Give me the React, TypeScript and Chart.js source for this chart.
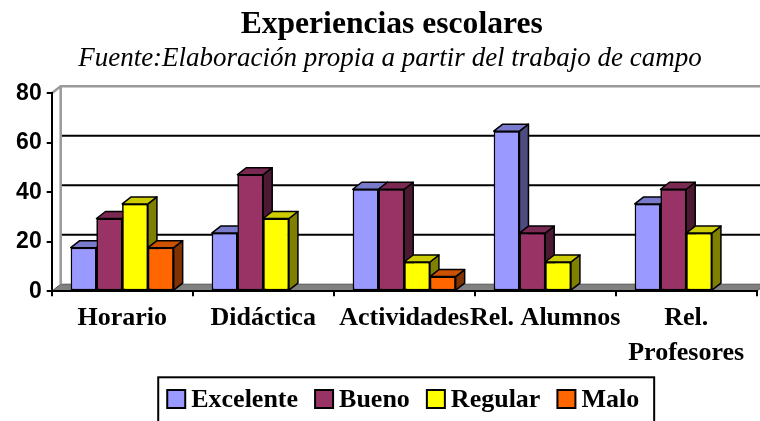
import React, { useEffect, useRef } from "react";
import { Chart, registerables } from "chart.js";

Chart.register(...registerables);

// ---- data ----
const categories: (string | string[])[] = ["Horario", "Didáctica", "Actividades", "Rel. Alumnos", ["Rel.", "Profesores"]];
const seriesNames = ["Excelente", "Bueno", "Regular", "Malo"];
const excelente = [17.6, 23.5, 41.2, 64.7, 35.3];
const bueno = [29.4, 47.1, 41.2, 23.5, 41.2];
const regular = [35.3, 29.4, 11.8, 11.8, 23.5];
const malo = [17.6, null, 5.9, null, null];
const yTicks = [0, 20, 40, 60, 80];
const titleText = "Experiencias escolares";
const subtitleText = "Fuente:Elaboración propia a partir del trabajo de campo";

// ---- styles ----
const frontColors = ["#9999FF", "#993366", "#FFFF00", "#FF6600"];
const topColors = ["#7A7ACC", "#7A2952", "#CCCC00", "#CC5200"];
const sideColors = ["#4C4C80", "#4C1933", "#808000", "#803300"];
const DX = 9;
const DY = -7;
const SERIF = '"Liberation Serif", "Times New Roman", serif';
const SANS = '"Liberation Sans", Arial, sans-serif';

const threeD = {
  id: "threeD",
  beforeDraw(chart: any) {
    const { ctx, chartArea, scales } = chart;
    const { left, right } = chartArea;
    const y = scales.y;
    const yMax = y.getPixelForValue(yTicks[yTicks.length - 1]);
    const y0 = y.getPixelForValue(yTicks[0]);
    ctx.save();
    // floor
    ctx.fillStyle = "#808080";
    ctx.beginPath();
    ctx.moveTo(left, y0);
    ctx.lineTo(right, y0);
    ctx.lineTo(right + DX, y0 + DY);
    ctx.lineTo(left + DX, y0 + DY);
    ctx.closePath();
    ctx.fill();
    ctx.strokeStyle = "#555";
    ctx.lineWidth = 1;
    ctx.stroke();
    // back wall grid lines
    ctx.strokeStyle = "#000";
    ctx.lineWidth = 2;
    yTicks.forEach((v) => {
      if (v === yTicks[0] || v === yTicks[yTicks.length - 1]) return;
      const py = y.getPixelForValue(v) + DY;
      ctx.beginPath();
      ctx.moveTo(left + DX, py);
      ctx.lineTo(right + DX, py);
      ctx.stroke();
    });
    // wall frame
    ctx.strokeStyle = "#9a9a9a";
    ctx.lineWidth = 2.5;
    ctx.beginPath();
    ctx.moveTo(left, yMax);
    ctx.lineTo(left + DX, yMax + DY);
    ctx.lineTo(right + DX, yMax + DY);
    ctx.moveTo(left + DX, yMax + DY);
    ctx.lineTo(left + DX, y0 + DY);
    ctx.stroke();
    ctx.restore();
  },
  afterDatasetsDraw(chart: any) {
    const { ctx } = chart;
    ctx.save();
    // paint left to right: for each series, side + top, then the library's own front face again
    chart.data.datasets.forEach((ds: any, idx: number) => {
      const meta = chart.getDatasetMeta(idx);
      meta.data.forEach((el: any, i: number) => {
        if (ds.data[i] == null) return;
        const p = el.getProps(["x", "y", "base", "width"], true);
        const L = p.x - p.width / 2;
        const R = p.x + p.width / 2;
        const T = Math.min(p.y, p.base);
        const B = Math.max(p.y, p.base);
        ctx.lineWidth = 1.5;
        ctx.strokeStyle = "#000";
        ctx.lineJoin = "round";
        // side
        ctx.fillStyle = sideColors[idx];
        ctx.beginPath();
        ctx.moveTo(R, T);
        ctx.lineTo(R + DX, T + DY);
        ctx.lineTo(R + DX, B + DY);
        ctx.lineTo(R, B);
        ctx.closePath();
        ctx.fill();
        ctx.stroke();
        // top
        ctx.fillStyle = topColors[idx];
        ctx.beginPath();
        ctx.moveTo(L, T);
        ctx.lineTo(R, T);
        ctx.lineTo(R + DX, T + DY);
        ctx.lineTo(L + DX, T + DY);
        ctx.closePath();
        ctx.fill();
        ctx.stroke();
        // front (library element)
        el.draw(ctx, chart.chartArea);
      });
    });
    ctx.restore();
  },
  afterDraw(chart: any) {
    const { ctx, chartArea } = chart;
    ctx.save();
    ctx.fillStyle = "#000";
    ctx.textAlign = "center";
    ctx.textBaseline = "alphabetic";
    ctx.font = `bold 31.6px ${SERIF}`;
    ctx.fillText(titleText, 391.7, 33.3);
    ctx.font = `italic 27px ${SERIF}`;
    ctx.fillText(subtitleText, 390, 66);

    // legend
    ctx.font = `bold 26px ${SERIF}`;
    ctx.textAlign = "left";
    const box = 18;
    const boxGap = 6;
    const itemGap = 17;
    const widths = seriesNames.map((n) => box + boxGap + ctx.measureText(n).width);
    const total = widths.reduce((a, b) => a + b, 0) + itemGap * (widths.length - 1);
    const cx = (chartArea.left + chartArea.right) / 2 - 1;
    let x = cx - total / 2;
    const start = x;
    const boxTop = 390;
    const baseline = 407.3;
    seriesNames.forEach((n, i) => {
      ctx.fillStyle = frontColors[i];
      ctx.fillRect(x, boxTop, box, box);
      ctx.strokeStyle = "#000";
      ctx.lineWidth = 2;
      ctx.strokeRect(x, boxTop, box, box);
      ctx.fillStyle = "#000";
      ctx.fillText(n, x + box + boxGap, baseline);
      x += widths[i] + itemGap;
    });
    const end = start + total;
    ctx.strokeStyle = "#000";
    ctx.lineWidth = 2;
    ctx.strokeRect(start - 9, 377.3, end - start + 24, 60);
    ctx.restore();
  },
};

export default function App() {
  const ref = useRef<HTMLCanvasElement | null>(null);
  useEffect(() => {
    if (!ref.current) return;
    const series = [excelente, bueno, regular, malo];
    const chart = new Chart(ref.current, {
      type: "bar",
      data: {
        labels: categories as any,
        datasets: series.map((d, i) => ({
          label: seriesNames[i],
          data: d as any,
          backgroundColor: frontColors[i],
          borderColor: "#000",
          borderWidth: 1.5,
          borderSkipped: false,
          categoryPercentage: 0.73,
          barPercentage: 1,
        })),
      },
      options: {
        animation: false,
        responsive: true,
        maintainAspectRatio: false,
        layout: { padding: { left: 0, right: 3.3, top: 93.3, bottom: 0 } },
        plugins: {
          legend: { display: false },
          title: { display: false },
          tooltip: { enabled: false },
        },
        scales: {
          x: {
            grid: { drawOnChartArea: false, drawTicks: true, tickLength: 5, color: "#000", lineWidth: 2, offset: true },
            border: { color: "#000", width: 2 },
            ticks: {
              color: "#000",
              font: { family: SERIF, size: 26, weight: "bold", lineHeight: 1.346 },
              padding: 4.2,
              maxRotation: 0,
              minRotation: 0,
              autoSkip: false,
            },
            afterFit: (s: any) => {
              s.height = 129.8;
            },
          },
          y: {
            min: yTicks[0],
            max: yTicks[yTicks.length - 1],
            grid: { drawOnChartArea: false, drawTicks: true, tickLength: 5, color: "#000", lineWidth: 2 },
            border: { color: "#000", width: 2 },
            ticks: {
              color: "#000",
              font: { family: SANS, size: 23, weight: "bold" },
              padding: 5,
            },
            afterBuildTicks: (s: any) => {
              s.ticks = yTicks.map((v) => ({ value: v }));
            },
            afterFit: (s: any) => {
              s.width = 51.7;
            },
          },
        },
      },
      plugins: [threeD],
    });
    return () => chart.destroy();
  }, []);
  return (
    <div style={{ position: "fixed", left: 0, top: 0, width: 760, height: 421, background: "#fff" }}>
      <canvas ref={ref} />
    </div>
  );
}
